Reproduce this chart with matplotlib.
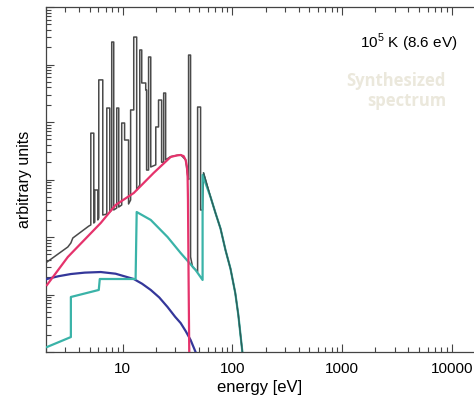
import numpy as np
import matplotlib
matplotlib.use('Agg')
import matplotlib.pyplot as plt
from matplotlib.ticker import LogLocator, NullFormatter, FixedLocator, FixedFormatter

# ---------------------------------------------------------------------------
# SETTINGS
# ---------------------------------------------------------------------------

plt.rcParams['font.family'] = ['Liberation Sans', 'DejaVu Sans']
plt.rcParams['mathtext.fontset'] = 'custom'
plt.rcParams['mathtext.rm'] = 'Liberation Sans'

col_total = '#4a4a4a'
col_red = '#e5336c'
col_blue = '#34379a'
col_teal = '#3ab3a8'

# ---------------------------------------------------------------------------
# DATA (energy in eV, intensity in arbitrary units)
# ---------------------------------------------------------------------------

# red component
red_E = [2.04, 3.16, 6.3, 8.6, 12.6, 19.1, 27.3, 31.0, 33.7, 35.9, 37.4, 38.4, 39.0, 39.3, 39.8, 40.5]
red_I = [14.6, 44.9, 175, 360, 582, 1297, 2462, 2620, 2668, 2550, 2183, 1700, 1100, 440, 20, 0.5]

# blue component
blue_E = [2.04, 2.6, 3.37, 4.5, 6.3, 8.6, 12.6, 15.0, 18.0, 21.5, 25.6, 30.0, 33.7, 37.5, 41.5, 46.1, 48.0]
blue_I = [18.6, 20.8, 22.7, 24.0, 24.6, 23.0, 18.6, 15.4, 12.0, 8.9, 6.06, 4.1, 3.19, 2.3, 1.62, 1.0, 0.6]

# teal component
teal_E = [2.04, 3.37, 3.37, 6.05, 6.18, 13.1, 13.4, 18.0, 25.6, 33.7, 46.1, 53.4,
          53.4, 63.1, 70.0, 77.8, 86.3, 95.9, 106, 113, 123, 127]
teal_I = [1.22, 1.82, 9.05, 12.0, 18.6, 18.6, 272, 198, 100, 52.7, 26.7, 17.9,
          1197, 496, 261, 140, 59.4, 28.0, 10.6, 4.4, 1.0, 0.5]

# synthesized total spectrum (line spectrum on top of the continuum)
total_E = [2.04, 3.16, 3.37, 3.51, 4.91,
           5.12, 5.12, 5.45, 5.45,
           5.56, 5.56, 5.93, 5.93,
           6.05, 6.05, 6.58, 6.58,
           7.16, 7.16, 7.62, 7.62,
           7.94, 7.94, 8.28, 8.28,
           8.82, 8.82, 9.2, 9.2,
           9.79, 9.79, 10.4, 10.4, 11.3, 11.3,
           11.8, 11.8, 12.6, 12.6, 13.4, 13.4,
           14.3, 14.3, 14.9, 14.9, 16.2, 16.2, 16.5, 16.5,
           17.2, 17.2, 18.0, 18.0,
           20.0, 20.0, 21.2, 21.2, 22.6, 22.6,
           23.6, 23.6, 24.6, 24.6,
           27.3, 33.7, 37.4, 39.0,
           39.8, 39.8, 41.5, 41.5, 43.3, 46.1,
           48.1, 48.1, 51.2, 51.2, 53.4,
           54.5, 63.1, 70.0, 77.8, 86.3, 95.9, 106, 113, 123, 127]
total_I = [36.7, 67, 78.7, 96, 155,
           162, 6400, 6400, 175,
           182, 657, 657, 198,
           214, 54000, 54000, 241,
           251, 17500, 17500, 272,
           295, 246000, 246000, 295,
           319, 17500, 17500, 332,
           360, 9600, 9600, 4860, 4860, 375,
           440, 16200, 16200, 300000, 300000, 657,
           802, 179000, 179000, 47700, 47700, 36000, 36000, 1460,
           1460, 135000, 135000, 1650,
           1800, 8200, 8200, 24100, 24100, 2000,
           2000, 31900, 31900, 2200,
           2500, 2700, 2200, 1200,
           1000, 146000, 146000, 44.9, 30, 26.7,
           25, 18200, 18200, 295, 295,
           1300, 496, 261, 140, 59.4, 28.0, 10.6, 4.4, 1.0, 0.5]

xtick_vals = [10, 100, 1000, 10000]
xtick_labels = ['10', '100', '1000', '10000']

# ---------------------------------------------------------------------------
# PLOT
# ---------------------------------------------------------------------------

fig = plt.figure(figsize=(4.74, 4.05), dpi=100)
ax = fig.add_axes([46/474, 53/405, 428/474, 345/405])

ax.plot(total_E, total_I, color=col_total, lw=1.1, zorder=2)
ax.plot(blue_E, blue_I, color=col_blue, lw=1.6, zorder=3)
ax.plot(red_E, red_I, color=col_red, lw=1.6, zorder=4)
ax.plot(teal_E, teal_I, color=col_teal, lw=1.6, zorder=3)
# the total spectrum sits on top of the teal tail
ax.plot(total_E[-10:], total_I[-10:], color='#2c5d58', lw=1.0, zorder=5)

ax.set_xscale('log')
ax.set_yscale('log')
ax.set_xlim(2, 15850)
ax.set_ylim(1, 1e6)

ax.xaxis.set_major_locator(FixedLocator(xtick_vals))
ax.xaxis.set_major_formatter(FixedFormatter(xtick_labels))
ax.xaxis.set_minor_locator(LogLocator(base=10, subs=np.arange(2, 10), numticks=20))
ax.xaxis.set_minor_formatter(NullFormatter())
ax.yaxis.set_major_locator(LogLocator(base=10, numticks=20))
ax.yaxis.set_minor_locator(LogLocator(base=10, subs=np.arange(2, 10), numticks=20))
ax.yaxis.set_major_formatter(NullFormatter())
ax.yaxis.set_minor_formatter(NullFormatter())

ax.tick_params(which='both', direction='in', top=True, right=False, color='#444444', width=0.8)
ax.tick_params(which='major', length=6, labelsize=11, pad=7)
ax.tick_params(which='minor', length=3.5)

for side in ['left', 'bottom', 'top']:
    ax.spines[side].set_color('#444444')
    ax.spines[side].set_linewidth(0.9)
ax.spines['right'].set_visible(False)

ax.set_xlabel('energy [eV]', fontsize=12, labelpad=3)
ax.set_ylabel('arbitrary units', fontsize=11.5, labelpad=3)

fig.text(457/474, 1 - 43/405, '10$^{5}$ K (8.6 eV)', ha='right', va='center', fontsize=11)
fig.text(446/474, 1 - 91/405, 'Synthesized\nspectrum', ha='right', va='center',
         fontsize=12, fontweight='bold', family=['Open Sans', 'DejaVu Sans'],
         color='#ebe8dc', linespacing=1.1, multialignment='right')

plt.savefig('out.png', dpi=100)
